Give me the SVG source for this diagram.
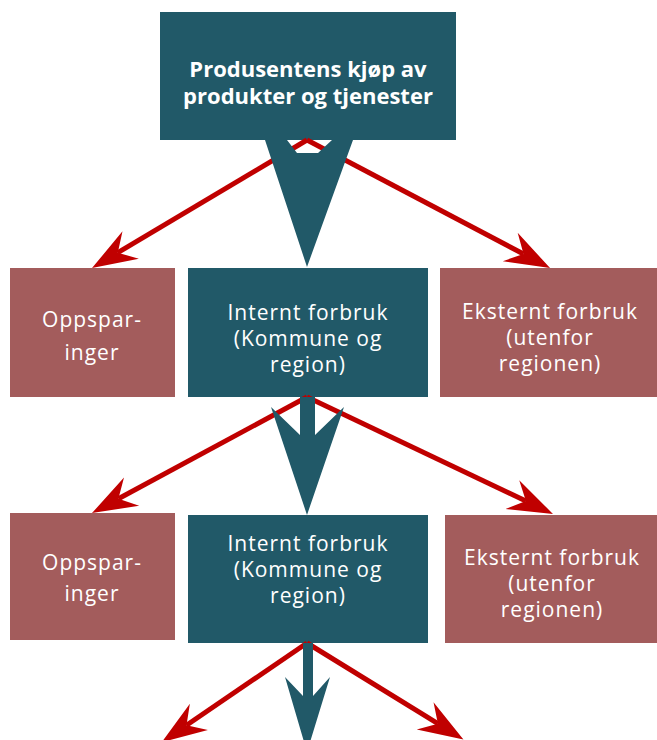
<svg xmlns="http://www.w3.org/2000/svg" width="657" height="740" viewBox="0 0 657 740">
<defs>
<style>
.teal{fill:#215968}
.rose{fill:#A35C5C}
.lbl{font-family:"Open Sans","Noto Sans","Liberation Sans",sans-serif;font-size:21px;letter-spacing:1px;fill:#ffffff;text-anchor:middle}
.ttl{font-family:"Open Sans","Noto Sans","Liberation Sans",sans-serif;font-size:22px;font-weight:bold;fill:#ffffff;text-anchor:middle}
.red{stroke:#C00000;stroke-width:5;fill:none;marker-end:url(#rh)}
</style>
<marker id="rh" markerUnits="userSpaceOnUse" markerWidth="50" markerHeight="40" viewBox="0 -20 50 40" refX="15" refY="0" orient="auto">
<path d="M45,0 L0,-16 L15,0 L0,16 Z" fill="#C00000"/>
</marker>
</defs>
<rect width="657" height="740" fill="#ffffff"/>

<g id="top">
<rect class="teal" x="160" y="12" width="296" height="128"/>
<text class="ttl" x="308" y="77">Produsentens kjøp av</text>
<text class="ttl" x="308" y="104">produkter og tjenester</text>
</g>

<g id="oppsparinger1">
<rect class="rose" x="10" y="268" width="165" height="129"/>
<text class="lbl" x="92" y="327">Oppspar-</text>
<text class="lbl" x="92" y="360">inger</text>
</g>
<g id="internt1">
<rect class="teal" x="188" y="268" width="240" height="129"/>
<text class="lbl" x="308" y="320">Internt forbruk</text>
<text class="lbl" x="308" y="346">(Kommune og</text>
<text class="lbl" x="308" y="372">region)</text>
</g>
<g id="eksternt1">
<rect class="rose" x="440" y="268" width="217" height="129"/>
<text class="lbl" x="550" y="319">Eksternt forbruk</text>
<text class="lbl" x="550" y="345">(utenfor</text>
<text class="lbl" x="550" y="371">regionen)</text>
</g>

<g id="oppsparinger2">
<rect class="rose" x="10" y="513" width="165" height="127"/>
<text class="lbl" x="92" y="570">Oppspar-</text>
<text class="lbl" x="92" y="601">inger</text>
</g>
<g id="internt2">
<rect class="teal" x="188" y="515" width="240" height="128"/>
<text class="lbl" x="308" y="551">Internt forbruk</text>
<text class="lbl" x="308" y="577">(Kommune og</text>
<text class="lbl" x="308" y="603">region)</text>
</g>
<g id="eksternt2">
<rect class="rose" x="445" y="515" width="212" height="128"/>
<text class="lbl" x="552" y="565">Eksternt forbruk</text>
<text class="lbl" x="552" y="591">(utenfor</text>
<text class="lbl" x="552" y="617">regionen)</text>
</g>

<g id="connectors">
<line class="red" x1="307" y1="140" x2="117.8" y2="252.7"/>
<line class="red" x1="307" y1="140" x2="523.5" y2="254"/>
<line class="red" x1="307" y1="397" x2="118.4" y2="498.8"/>
<line class="red" x1="307" y1="397" x2="525.9" y2="501.1"/>
<line class="red" x1="307" y1="643" x2="186.5" y2="725.3"/>
<line class="red" x1="307" y1="643" x2="437.9" y2="723.7"/>
<polygon class="teal" points="265,140 287,140 297,153 318,153 332,140 353,140 307,267"/>
<polygon class="teal" points="300,397 315,397 315,435 344,407 307,515 271,407 300,435"/>
<polygon class="teal" points="303,643 313,643 313,696 330,677 307,752 285,677 303,696"/>
</g>
</svg>
